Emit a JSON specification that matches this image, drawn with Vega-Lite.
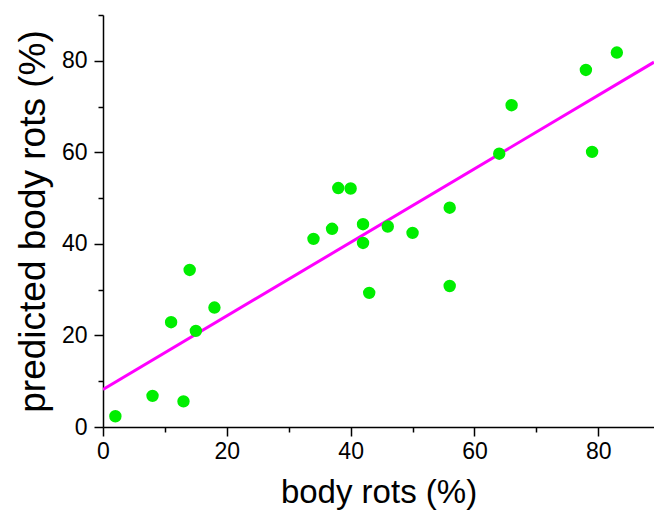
{
  "$schema": "https://vega.github.io/schema/vega-lite/v6.json",
  "width": 551,
  "height": 412,
  "autosize": {"type": "none"},
  "padding": {"left": 103, "top": 15, "right": 0, "bottom": 83},
  "background": "white",
  "config": {
    "view": {"stroke": null},
    "axis": {
      "grid": false,
      "domainColor": "black",
      "domainWidth": 1.5,
      "tickColor": "black",
      "tickWidth": 1.5,
      "labelFont": "Liberation Sans",
      "labelFontSize": 23,
      "labelColor": "black",
      "labelFlush": false,
      "titleFont": "Liberation Sans",
      "titleFontWeight": "normal",
      "titleColor": "black",
      "labelExpr": "datum.value % 20 === 0 ? datum.label : ''",
      "tickSize": {"condition": {"test": "datum.value % 20 === 0", "value": 9}, "value": 5}
    }
  },
  "layer": [
    {
      "data": {"values": [{"x": 0, "y": 8.2}, {"x": 89, "y": 79.7}]},
      "mark": {"type": "line", "color": "#ff00ff", "strokeWidth": 3, "clip": true},
      "encoding": {
        "x": {"field": "x", "type": "quantitative", "scale": {"domain": [0, 89], "nice": false, "zero": false},
          "axis": {"title": "body rots (%)", "titleFontSize": 33, "values": [0, 10, 20, 30, 40, 50, 60, 70, 80], "labelPadding": 4, "titlePadding": 13}},
        "y": {"field": "y", "type": "quantitative", "scale": {"domain": [0, 90], "nice": false},
          "axis": {"title": "predicted body rots (%)", "titleFontSize": 37, "values": [0, 10, 20, 30, 40, 50, 60, 70, 80, 90], "labelPadding": 7, "titlePadding": 9}}
      }
    },
    {
      "data": {"values": [
        {"x": 2, "y": 2.35}, {"x": 8, "y": 6.8}, {"x": 13, "y": 5.6}, {"x": 11, "y": 22.9},
        {"x": 15, "y": 21.0}, {"x": 14, "y": 34.3}, {"x": 18, "y": 26.1}, {"x": 38, "y": 52.2},
        {"x": 40, "y": 52.1}, {"x": 34, "y": 41.1}, {"x": 37, "y": 43.3}, {"x": 42, "y": 44.3},
        {"x": 42, "y": 40.2}, {"x": 46, "y": 43.8}, {"x": 50, "y": 42.4}, {"x": 43, "y": 29.3},
        {"x": 56, "y": 47.9}, {"x": 56, "y": 30.8}, {"x": 64, "y": 59.7}, {"x": 66, "y": 70.3},
        {"x": 78, "y": 78.0}, {"x": 83, "y": 81.8}, {"x": 79, "y": 60.1}
      ]},
      "mark": {"type": "circle", "color": "#00ee00", "opacity": 1, "size": 154},
      "encoding": {
        "x": {"field": "x", "type": "quantitative"},
        "y": {"field": "y", "type": "quantitative"}
      }
    }
  ]
}
